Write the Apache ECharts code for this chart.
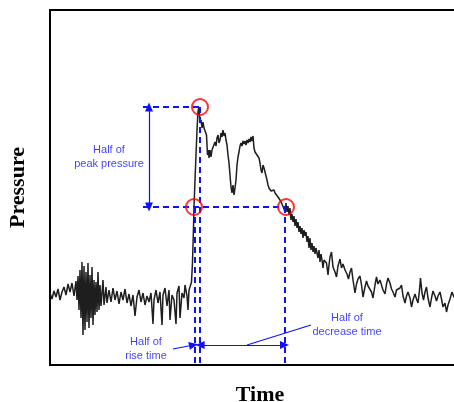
<!DOCTYPE html>
<html><head><meta charset="utf-8">
<script src="https://cdn.jsdelivr.net/npm/echarts@6/dist/echarts.min.js"></script>
<style>html,body{margin:0;padding:0;background:#fff}#c{width:454px;height:402px}</style>
</head><body><div id="c"></div>
<script>
// Time (arbitrary units) and pressure (arbitrary units)
const time = [0,2,4,6,8,10,12,14,16,18,20,22,24,26,
27,28,29,30,31,32,33,34,35,36,37,38,39,40,41,42,43,44,45,46,47,48,49,50,51,53,54,56,57,59,61,63,65,67,69,71,73,75,77,79,81,83,85,87,89,91,93,95,97,99,101,103,104,106,108,110,112,113,115,117,119,120,122,124,126,127,129,130,132,134,135,137,138,139,140,
141.5,142.5,143.3,144,145,146,147,148,148.7,149.5,150,151,152,153,154,155.5,156.5,157.5,158.5,159,160,161,162,163,164,165,166,167,168,169,170,171,172,173,174,175,176,177,178,179,180,181,182,183,184,185,186,187,188,189,190,191,192,193,194,195,196,197,198,199,200,201,202,203,204,205,206,207,208,209,210,211,212,213,214,215,216,217,218,219,220,221,222,223,224,225,226,227,228,229,230,231,232,233,234,235,236,237,238,239,240,241,242,243,244,245,246,247,248,249,250,251,252,253,254,255,256,257,258,259,260,261,262,263,264,265,266,268,269,270,271,272,273,274,275,276.5,278,279,280,281.5,283,285,286.5,288,290,291.5,293,295,297,298.5,300,301.5,303,305,306.5,308,310,311.5,313,315,316.5,318,320,321.5,323,325,326.5,328,330,331.5,333,335,336.5,338,340,341.5,343,345,346.5,348,350,351.5,353,355,356.5,358,360,361.5,363,365,366.5,368,369.5,370.5,372,373.5,375,376.5,378,380,381.5,383,385,386.5,388,390,391.5,393,395,396.5,398,400,402,404,406];
const pressure = [72,66,74,68,76,65,73,78,70,81,73,82,69,84,
65,89,55,95,47,103,30,99,35,93,43,102,37,90,47,98,40,85,50,83,53,93,55,80,59,85,60,78,62,75,63,77,65,74,61,73,65,76,62,71,59,70,49,68,75,63,72,60,69,63,72,41,65,75,62,73,40,70,77,59,75,45,70,65,41,72,79,47,72,67,80,69,55,75,78,
83,103,130,158,185,210,235,253,257,250,242,245,237,243,237,235,230,210,215,207,215,208,215,217,213,223,219,227,230,222,225,232,228,235,229,232,225,220,210,202,190,178,172,180,170,177,185,200,208,213,219,222,219,224,221,224,220,225,222,226,223,228,224,229,217,213,215,210,211,207,202,195,192,200,197,195,189,185,180,177,178,174,176,173,175,172,173,170,168,166,165,163,161,159,156,153,
162,153,159,150,157,145,151,143,149,139,146,137,143,133,139,131,137,127,135,129,133,123,129,117,127,115,122,113,119,111,117,107,115,103,111,105,
97,105,107,102,90,100,108,113,98,93,88,99,106,97,101,95,91,86,93,97,85,72,81,86,89,80,68,78,84,79,78,73,67,80,88,81,85,84,75,71,81,87,82,76,73,68,75,73,77,80,69,62,69,73,67,58,65,71,66,62,75,87,72,65,73,78,67,58,67,74,69,64,69,73,66,58,62,53,60,66,73,68,65];

// Annotation values
const peakTime = 149.3, peakPressure = 258;
const halfPressure = 158;
const riseHalfTime = 144.3;
const decayHalfTime = 235;
const guideStartTime = 93;
const peakArrowTime = 99;
const timeArrowPressure = 20;
const circlePoints = [[150, 258], [144, 158], [236, 158]];
const textNotes = [
  {value: [59, 208], text: 'Half of\npeak pressure'},
  {value: [96, 16], text: 'Half of\nrise time'},
  {value: [297, 40], text: 'Half of\ndecrease time'}
];
const riseLeader = [[123, 16], [143.5, 20]];
const decayLeader = [[197, 20], [261, 40]];

const BLUE = '#1010ff';
const chart = echarts.init(document.getElementById('c'));
const dashed = {color: BLUE, width: 2, type: [6, 4]};
const thin = {color: BLUE, width: 1.2, type: 'solid'};
function seg(a, b, style, s1, s2) {
  return [{coord: a, symbol: s1 || 'none', lineStyle: style}, {coord: b, symbol: s2 || 'none'}];
}
chart.setOption({
  animation: false,
  grid: {left: 50, top: 10, right: -16, bottom: 37, show: true, borderColor: '#000', borderWidth: 2,
    containLabel: false, outerBoundsMode: 'none'},
  xAxis: {type: 'value', min: 0, max: 420, axisLine: {show: false}, axisTick: {show: false},
    axisLabel: {show: false}, splitLine: {show: false},
    name: 'Time', nameLocation: 'middle', nameGap: 19,
    nameTextStyle: {fontFamily: 'Liberation Serif', fontWeight: 'bold', fontSize: 22, color: '#000'}},
  yAxis: {type: 'value', min: 0, max: 355, axisLine: {show: false}, axisTick: {show: false},
    axisLabel: {show: false}, splitLine: {show: false},
    name: 'Pressure', nameLocation: 'middle', nameGap: 21, nameRotate: 90,
    nameTextStyle: {fontFamily: 'Liberation Serif', fontWeight: 'bold', fontSize: 22, color: '#000'}},
  series: [
    {type: 'line', data: time.map((t, i) => [t, pressure[i]]), showSymbol: false,
      lineStyle: {color: '#1e1e1e', width: 1.5}, z: 3},
    {type: 'line', data: [], silent: true,
      markLine: {silent: true, animation: false, label: {show: false}, symbolSize: [8, 9],
        data: [
          seg([guideStartTime, peakPressure], [peakTime, peakPressure], dashed),
          seg([guideStartTime, halfPressure], [decayHalfTime, halfPressure], dashed),
          seg([peakTime, peakPressure], [peakTime, 0], dashed),
          seg([riseHalfTime, halfPressure], [riseHalfTime, 0], dashed),
          seg([decayHalfTime, halfPressure], [decayHalfTime, 0], dashed),
          seg([peakArrowTime, peakPressure], [peakArrowTime, halfPressure], thin, 'triangle', 'triangle'),
          seg(riseLeader[0], riseLeader[1], thin, 'none', 'triangle'),
          seg([peakTime + 0.8, timeArrowPressure], [decayHalfTime - 0.5, timeArrowPressure], thin, 'triangle', 'triangle'),
          seg(decayLeader[0], decayLeader[1], thin)
        ]}, z: 4},
    {type: 'scatter', data: circlePoints, symbol: 'circle', symbolSize: 16,
      itemStyle: {color: 'rgba(0,0,0,0)', borderColor: '#ff0000', borderWidth: 2}, z: 5},
    {type: 'scatter', data: textNotes.map(n => ({value: n.value, label: {formatter: n.text}})),
      symbolSize: 0,
      label: {show: true, position: 'inside', color: BLUE, fontFamily: 'Liberation Sans',
        fontSize: 11, lineHeight: 14, align: 'center'}, z: 6}
  ]
});
</script></body></html>
